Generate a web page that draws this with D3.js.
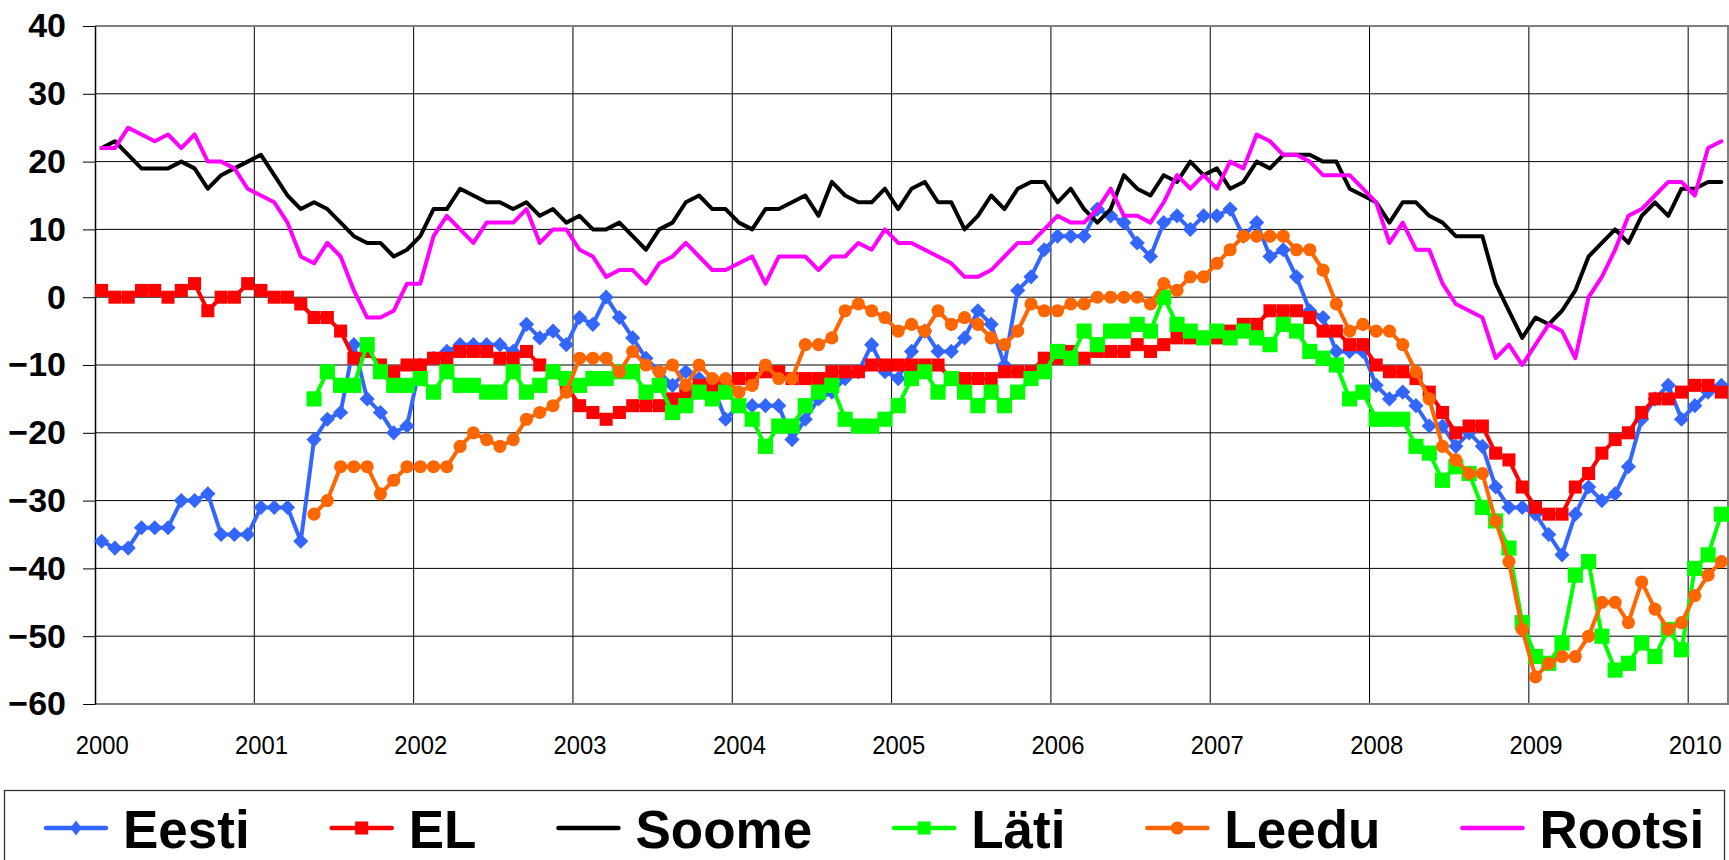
<!DOCTYPE html>
<meta charset="utf-8">
<style>
body { margin: 0; background: #fff; }
svg { display: block; }
.yaxis text { font-family: "Liberation Sans", Arial, sans-serif; font-weight: bold; font-size: 34px; fill: #000; }
.xaxis text { font-family: "Liberation Sans", Arial, sans-serif; font-size: 26px; fill: #000; }
.legend text { font-family: "Liberation Sans", Arial, sans-serif; font-weight: bold; font-size: 53px; fill: #000; }
</style>
<body>
<div id="chart"></div>
<script src="https://d3js.org/d3.v7.min.js"></script>
<script>

// monthly categories Jan 2000 .. Mar 2010
var months = d3.timeMonth.range(new Date(2000, 0, 1), new Date(2010, 3, 1));
var years = ["2000", "2001", "2002", "2003", "2004", "2005", "2006", "2007", "2008", "2009", "2010"];
var yTicks = [-60, -50, -40, -30, -20, -10, 0, 10, 20, 30, 40];

var eesti = [
  -36, -37, -37, -34, -34, -34, -30, -30, -29, -35, -35, -35,
  -31, -31, -31, -36, -21, -18, -17, -7, -15, -17, -20, -19,
  -10, -9, -8, -7, -7, -7, -7, -8, -4, -6, -5, -7,
  -3, -4, 0, -3, -6, -9, -11, -13, -11, -12, -13, -18,
  -16, -16, -16, -16, -21, -18, -15, -14, -12, -11, -7, -11,
  -12, -8, -5, -8, -8, -6, -2, -4, -10, 1, 3, 7,
  9, 9, 9, 13, 12, 11, 8, 6, 11, 12, 10, 12,
  12, 13, 9, 11, 6, 7, 3, -2, -3, -8, -8, -8,
  -13, -15, -14, -16, -19, -19, -22, -20, -22, -28, -31, -31,
  -32, -35, -38, -32, -28, -30, -29, -25, -18, -15, -13, -18,
  -16, -14, -13
];

var el = [
  1, 0, 0, 1, 1, 0, 1, 2, -2, 0, 0, 2,
  1, 0, 0, -1, -3, -3, -5, -9, -8, -10, -11, -10,
  -10, -9, -9, -8, -8, -8, -9, -9, -8, -10, -11, -13,
  -16, -17, -18, -17, -16, -16, -16, -15, -14, -13, -13, -13,
  -12, -12, -11, -11, -12, -12, -12, -11, -11, -11, -10, -10,
  -10, -10, -10, -10, -12, -12, -12, -12, -11, -11, -11, -9,
  -9, -8, -9, -8, -8, -8, -7, -8, -7, -6, -6, -6,
  -6, -5, -4, -4, -2, -2, -2, -3, -5, -5, -7, -7,
  -10, -11, -11, -12, -14, -17, -20, -19, -19, -23, -24, -28,
  -31, -32, -32, -28, -26, -23, -21, -20, -17, -15, -15, -14,
  -13, -13, -14
];

var soome = [
  22, 23, 21, 19, 19, 19, 20, 19, 16, 18, 19, 20,
  21, 18, 15, 13, 14, 13, 11, 9, 8, 8, 6, 7,
  9, 13, 13, 16, 15, 14, 14, 13, 14, 12, 13, 11,
  12, 10, 10, 11, 9, 7, 10, 11, 14, 15, 13, 13,
  11, 10, 13, 13, 14, 15, 12, 17, 15, 14, 14, 16,
  13, 16, 17, 14, 14, 10, 12, 15, 13, 16, 17, 17,
  14, 16, 13, 11, 13, 18, 16, 15, 18, 17, 20, 18,
  19, 16, 17, 20, 19, 21, 21, 21, 20, 20, 16, 15,
  14, 11, 14, 14, 12, 11, 9, 9, 9, 2, -2, -6,
  -3, -4, -2, 1, 6, 8, 10, 8, 12, 14, 12, 16,
  16, 17, 17
];

var lati = [
  null, null, null, null, null, null, null, null, null, null, null, null,
  null, null, null, null, -15, -11, -13, -13, -7, -11, -13, -13,
  -12, -14, -11, -13, -13, -14, -14, -11, -14, -13, -11, -12,
  -13, -12, -12, -11, -11, -14, -13, -17, -16, -14, -15, -14,
  -16, -18, -22, -19, -19, -16, -14, -13, -18, -19, -19, -18,
  -16, -12, -11, -14, -12, -14, -16, -14, -16, -14, -12, -11,
  -8, -9, -5, -7, -5, -5, -4, -5, 0, -4, -5, -6,
  -5, -6, -5, -6, -7, -4, -5, -8, -9, -10, -15, -14,
  -18, -18, -18, -22, -23, -27, -25, -26, -31, -33, -37, -48,
  -53, -54, -51, -41, -39, -50, -55, -54, -51, -53, -49, -52,
  -40, -38, -32
];

var leedu = [
  null, null, null, null, null, null, null, null, null, null, null, null,
  null, null, null, null, -32, -30, -25, -25, -25, -29, -27, -25,
  -25, -25, -25, -22, -20, -21, -22, -21, -18, -17, -16, -14,
  -9, -9, -9, -11, -8, -10, -11, -10, -13, -10, -12, -12,
  -14, -13, -10, -12, -12, -7, -7, -6, -2, -1, -2, -3,
  -5, -4, -5, -2, -4, -3, -4, -6, -7, -5, -1, -2,
  -2, -1, -1, 0, 0, 0, 0, -1, 2, 1, 3, 3,
  5, 7, 9, 9, 9, 9, 7, 7, 4, -1, -5, -4,
  -5, -5, -7, -11, -15, -22, -24, -26, -26, -33, -39, -49,
  -56, -54, -53, -53, -50, -45, -45, -48, -42, -46, -49, -48,
  -44, -41, -39
];

var rootsi = [
  22, 22, 25, 24, 23, 24, 22, 24, 20, 20, 19, 16,
  15, 14, 11, 6, 5, 8, 6, 1, -3, -3, -2, 2,
  2, 9, 12, 10, 8, 11, 11, 11, 13, 8, 10, 10,
  7, 6, 3, 4, 4, 2, 5, 6, 8, 6, 4, 4,
  5, 6, 2, 6, 6, 6, 4, 6, 6, 8, 7, 10,
  8, 8, 7, 6, 5, 3, 3, 4, 6, 8, 8, 10,
  12, 11, 11, 13, 16, 12, 12, 11, 14, 18, 16, 18,
  16, 20, 19, 24, 23, 21, 21, 20, 18, 18, 18, 16,
  14, 8, 11, 7, 7, 2, -1, -2, -3, -9, -7, -10,
  -7, -4, -5, -9, 0, 3, 7, 12, 13, 15, 17, 17,
  15, 22, 23
];

var series = [
  { name: "Eesti",  values: eesti,  color: "#3366ff", marker: "diamond" },
  { name: "EL",     values: el,     color: "#ff0000", marker: "square" },
  { name: "Soome",  values: soome,  color: "#000000", marker: null },
  { name: "Läti",   values: lati,   color: "#00ff00", marker: "bigsquare" },
  { name: "Leedu",  values: leedu,  color: "#ff6600", marker: "circle" },
  { name: "Rootsi", values: rootsi, color: "#ff00ff", marker: null }
];

var width = 1729,
    height = 860;

var x = d3.scaleLinear().domain([0, months.length]).range([95, 1728]);
var y = d3.scaleLinear().domain([-60, 40]).range([704, 26]);

var svg = d3.select("#chart").append("svg")
    .attr("width", width)
    .attr("height", height);

// horizontal gridlines
svg.append("g")
  .selectAll("line")
  .data(yTicks)
  .enter().append("line")
    .attr("x1", x(0)).attr("x2", x(months.length))
    .attr("y1", function(d) { return y(d); })
    .attr("y2", function(d) { return y(d); })
    .attr("stroke", "#000")
    .attr("stroke-width", 1);

// year gridlines (between Dec and Jan)
svg.append("g")
  .selectAll("line")
  .data(years.slice(1))
  .enter().append("line")
    .attr("x1", function(d, i) { return x((i + 1) * 12); })
    .attr("x2", function(d, i) { return x((i + 1) * 12); })
    .attr("y1", y(40)).attr("y2", y(-60))
    .attr("stroke", "#000")
    .attr("stroke-width", 1);

// plot border top / right / bottom in grey
svg.append("path")
    .attr("d", "M" + x(0) + "," + y(40) + "H" + x(months.length) + "V" + y(-60) + "H" + x(0))
    .attr("fill", "none")
    .attr("stroke", "#808080")
    .attr("stroke-width", 2);

// y axis
var yAxis = svg.append("g")
    .attr("class", "yaxis")
    .attr("transform", "translate(" + x(0) + ",0)")
    .call(d3.axisLeft(y).tickValues(yTicks).tickSize(12).tickPadding(17).tickSizeOuter(0));
yAxis.select(".domain").attr("stroke", "#000").attr("stroke-width", 1.5);
yAxis.selectAll(".tick line").attr("stroke", "#000");

// x axis labels, centred on January of each year
var xAxis = svg.append("g")
    .attr("class", "xaxis")
    .attr("transform", "translate(0," + y(-60) + ")")
    .call(d3.axisBottom(x)
        .tickValues(years.map(function(d, i) { return i * 12 + 0.5; }))
        .tickFormat(function(d, i) { return years[i]; })
        .tickSize(0).tickPadding(32));
xAxis.select(".domain").remove();
xAxis.selectAll("text")
    .attr("textLength", 53)
    .attr("lengthAdjust", "spacingAndGlyphs");

function markerPath(type) {
  if (type === "diamond") return d3.symbol(d3.symbolSquare, 115)();
  if (type === "square") return d3.symbol(d3.symbolSquare, 170)();
  if (type === "bigsquare") return d3.symbol(d3.symbolSquare, 230)();
  if (type === "circle") return d3.symbol(d3.symbolCircle, 135)();
  return null;
}

var line = d3.line()
    .defined(function(d) { return d != null; })
    .x(function(d, i) { return x(i + 0.5); })
    .y(function(d) { return y(d); });

series.forEach(function(s) {
  var g = svg.append("g");
  g.append("path")
      .attr("d", line(s.values))
      .attr("fill", "none")
      .attr("stroke", s.color)
      .attr("stroke-width", 4)
      .attr("stroke-linejoin", "round")
      .attr("stroke-linecap", "round");
  if (s.marker) {
    var pts = s.values.map(function(v, i) { return { v: v, i: i }; })
        .filter(function(d) { return d.v != null; });
    g.selectAll("path.m")
      .data(pts)
      .enter().append("path")
        .attr("class", "m")
        .attr("d", markerPath(s.marker))
        .attr("fill", s.color)
        .attr("transform", function(d) {
          return "translate(" + x(d.i + 0.5) + "," + y(d.v) + ")" +
            (s.marker === "diamond" ? " rotate(45)" : "");
        });
  }
});

// legend
var legend = svg.append("g").attr("class", "legend");
legend.append("rect")
    .attr("x", 4.5).attr("y", 790.5)
    .attr("width", 1720).attr("height", 120)
    .attr("fill", "#fff")
    .attr("stroke", "#333")
    .attr("stroke-width", 1.3);

var lx = 44, ly = 828;
series.forEach(function(s) {
  var item = legend.append("g").attr("transform", "translate(" + lx + "," + ly + ")");
  item.append("line")
      .attr("x1", 2).attr("x2", 62)
      .attr("stroke", s.color)
      .attr("stroke-width", 4.5)
      .attr("stroke-linecap", "round");
  if (s.marker) {
    item.append("path")
        .attr("d", markerPath(s.marker === "bigsquare" ? "square" : s.marker))
        .attr("fill", s.color)
        .attr("transform", "translate(32,0)" + (s.marker === "diamond" ? " scale(0.75,1) rotate(45)" : ""));
  }
  var t = item.append("text")
      .attr("x", 79)
      .attr("y", 20)
      .text(s.name);
  lx += 79 + t.node().getComputedTextLength() + 80;
});

</script>
